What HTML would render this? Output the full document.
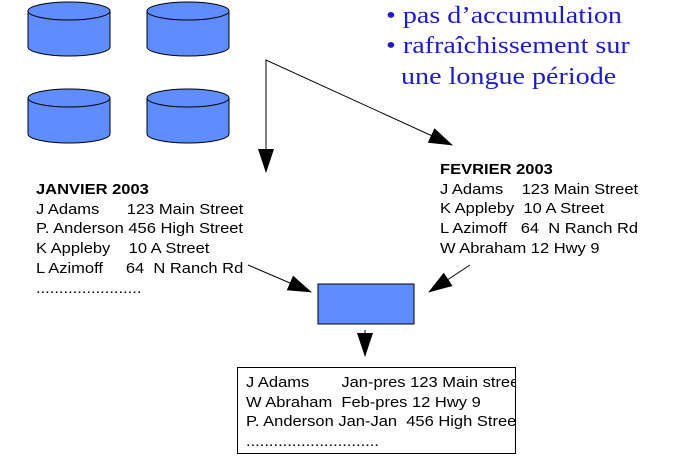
<!DOCTYPE html><html><head><style>
body{margin:0;width:675px;height:467px;background:#fff;overflow:hidden;position:relative;font-family:"Liberation Sans",sans-serif}
.t{position:absolute;font-size:15px;line-height:19.7px;color:#000;white-space:pre;transform:scaleX(1.1);transform-origin:0 0}
.b{position:absolute;font-family:"Liberation Serif",serif;font-size:24px;color:#1c1ccc;white-space:pre;transform:scaleX(1.17);transform-origin:0 0}
</style></head><body>
<svg width="675" height="467" style="position:absolute;left:0;top:0">
<defs><marker id="m" markerWidth="24" markerHeight="16" refX="23" refY="8" orient="auto" markerUnits="userSpaceOnUse"><path d="M0,0L24,8L0,16z" fill="#000"/></marker></defs>
<g fill="#5f8dff" stroke="#000" stroke-width="1">
<path d="M28,11v36a41,9 0 0 0 82,0v-36"/><ellipse cx="69" cy="11" rx="41" ry="9"/>
<path d="M147,11v36a41,9 0 0 0 82,0v-36"/><ellipse cx="188" cy="11" rx="41" ry="9"/>
<path d="M28,98v36a41,9 0 0 0 82,0v-36"/><ellipse cx="69" cy="98" rx="41" ry="9"/>
<path d="M147,98v36a41,9 0 0 0 82,0v-36"/><ellipse cx="188" cy="98" rx="41" ry="9"/>
<rect x="318" y="284" width="96" height="40"/>
</g>
<g stroke="#000" stroke-width="1" fill="none">
<path d="M266,170V60L452,145" marker-end="url(#m)"/>
<line x1="266" y1="60" x2="266" y2="172" marker-end="url(#m)"/>
<line x1="248" y1="265" x2="311" y2="292" marker-end="url(#m)"/>
<line x1="470" y1="265" x2="429" y2="292" marker-end="url(#m)"/>
<line x1="365" y1="330" x2="365" y2="356" marker-end="url(#m)"/>
</g></svg>
<div class="b" style="left:386px;top:3px">• pas d’accumulation</div>
<div class="b" style="left:386px;top:33px">• rafraîchissement sur</div>
<div class="b" style="left:401px;top:64px">une longue période</div>
<div class="t" style="left:36px;top:180px"><b>JANVIER 2003</b>
J Adams      123 Main Street
P. Anderson 456 High Street
K Appleby    10 A Street
L Azimoff     64  N Ranch Rd
.......................</div>
<div class="t" style="left:440px;top:160px"><b>FEVRIER 2003</b>
J Adams    123 Main Street
K Appleby  10 A Street
L Azimoff   64  N Ranch Rd
W Abraham 12 Hwy 9</div>
<div style="position:absolute;left:237px;top:367px;width:277px;height:85px;border:1px solid #000;overflow:hidden">
<div class="t" style="left:8px;top:5px">J Adams       Jan-pres 123 Main street
W Abraham  Feb-pres 12 Hwy 9
P. Anderson Jan-Jan  456 High Street
.............................</div></div>
</body></html>
